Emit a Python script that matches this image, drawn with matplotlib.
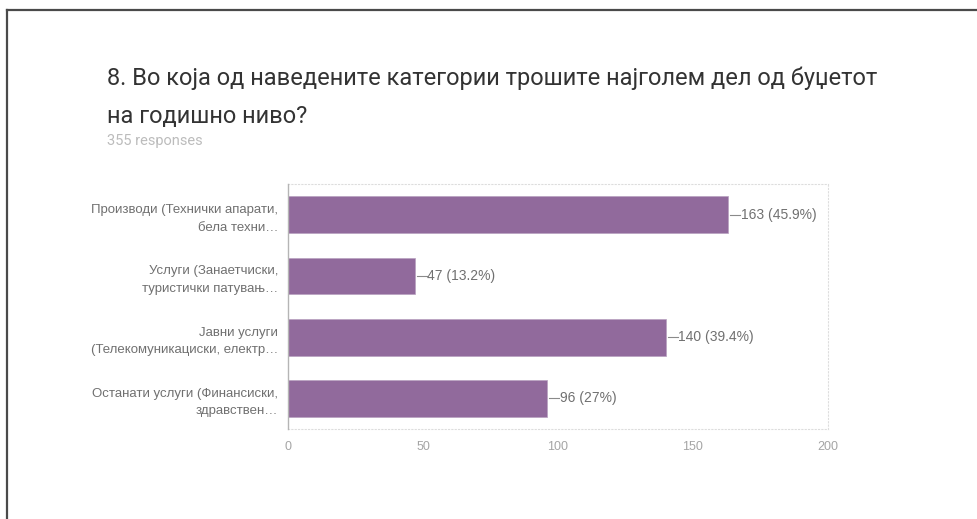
import matplotlib
matplotlib.use('Agg')
import matplotlib.pyplot as plt
from matplotlib.lines import Line2D

title = ('8. Во која од наведените категории трошите најголем дел од буџетот\n'
         'на годишно ниво?')
subtitle = '355 responses'
categories = [
    'Производи (Технички апарати,\nбела техни…',
    'Услуги (Занаетчиски,\nтуристички патувањ…',
    'Јавни услуги\n(Телекомуникациски, електр…',
    'Останати услуги (Финансиски,\nздравствен…',
]
counts = [163, 47, 140, 96]
percents = ['45.9%', '13.2%', '39.4%', '27%']
xticks = [0, 50, 100, 150, 200]

bar_color = '#916a9c'
text_color = '#707070'
light_text = '#a5a5a5'

fig = plt.figure(figsize=(9.77, 5.19), dpi=100)
W, H = 977, 519

# frame lines (left and top) of the screenshot
fig.add_artist(Line2D([7 / W, 7 / W], [0, 1 - 10 / H], transform=fig.transFigure,
                      color='#4a4a4a', lw=1.6))
fig.add_artist(Line2D([7 / W, 1], [1 - 10 / H, 1 - 10 / H], transform=fig.transFigure,
                      color='#4a4a4a', lw=1.6))

fig.text(107 / W, 1 - 97 / H, title, fontsize=17, family='Roboto',
         color='#333333', ha='left', va='center', linespacing=1.82)
fig.text(107 / W, 1 - 141 / H, subtitle, fontsize=10.5, family='Roboto',
         color='#bcbcbc', ha='left', va='center')

ax = fig.add_axes([288 / W, 90 / H, 540 / W, 245 / H])
y = list(range(len(categories)))
ax.barh(y, counts, height=0.6, color=bar_color, edgecolor='#b8a0c0', linewidth=0.5, zorder=2)
ax.set_xlim(0, 200)
ax.set_ylim(3.5, -0.5)

for yi, c, p in zip(y, counts, percents):
    ax.plot([c + 0.8, c + 4.5], [yi, yi], color='#8a8a8a', lw=0.8, zorder=3)
    ax.text(c + 4.6, yi, f'{c} ({p})', va='center', ha='left', fontsize=10,
            family='Liberation Sans', color=text_color)

ax.set_yticks(y)
ax.set_yticklabels(categories, fontsize=9.5, family='Liberation Sans',
                   color=text_color, linespacing=1.6)
ax.set_xticks(xticks)
ax.set_xticklabels([str(t) for t in xticks], fontsize=9,
                   family='Liberation Sans', color=light_text)
ax.tick_params(axis='both', length=0)
ax.tick_params(axis='x', pad=9)
ax.tick_params(axis='y', pad=7)

for side in ['top', 'right', 'bottom']:
    ax.spines[side].set_color('#dddddd')
    ax.spines[side].set_linestyle((0, (1, 2)))
    ax.spines[side].set_linewidth(0.8)
ax.spines['left'].set_color('#b5b5b5')
ax.spines['left'].set_linewidth(1.0)
ax.spines['left'].set_zorder(4)

fig.savefig('out.png', dpi=100, facecolor='white')
